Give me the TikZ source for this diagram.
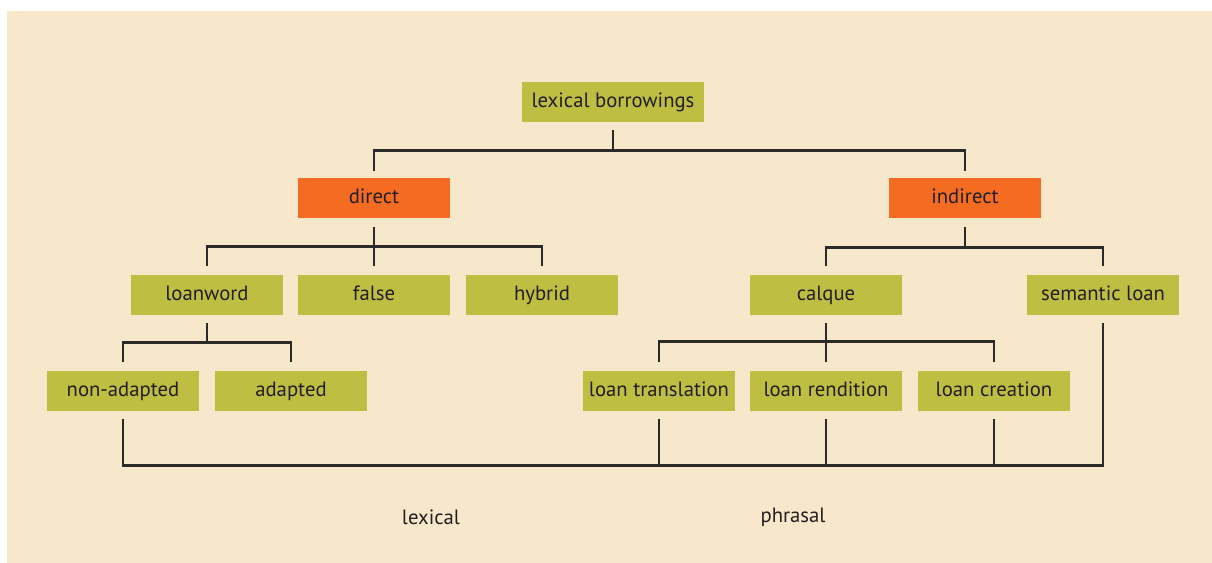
\documentclass[tikz,border=0pt]{standalone}
\usepackage{fontspec}
\setmainfont{PT Sans}
\definecolor{paperbg}{RGB}{248, 232, 203}
\definecolor{olivebox}{RGB}{189, 190, 66}
\definecolor{orangebox}{RGB}{243, 108, 33}
\definecolor{inkline}{RGB}{43, 42, 41}
\definecolor{inktext}{RGB}{35, 31, 32}
\usetikzlibrary{positioning, calc}

\begin{document}
\begin{tikzpicture}[x=0.02cm, y=-0.02cm,
    leaf/.style={fill=olivebox, minimum width=3.04cm, minimum height=0.8cm, inner sep=0pt, text height=1.6ex, text depth=0.4ex, font=\fontsize{11.8}{14}\selectfont, text=inktext},
    branch/.style={leaf, fill=orangebox},
    link/.style={draw=inkline, line width=1.65pt, line cap=rect}]
  \useasboundingbox (0,0) rectangle (1212,563);
  \fill[paperbg] (7,11) rectangle (1212,563);

  % Top levels
  \node[leaf, minimum width=3.64cm] (root) at (613, 102) {lexical borrowings};
  \node[branch] (direct) at (374, 198) {direct};
  \node[branch] (indirect) at (965, 198) {indirect};

  \node[leaf] (loanword) at (207, 295) {loanword};
  \node[leaf] (false) at (374, 295) {false};
  \node[leaf] (hybrid) at (542, 295) {hybrid};
  \node[leaf] (calque) at (826, 295) {calque};
  \node[leaf] (semloan) at (1103, 295) {semantic loan};

  \node[leaf] (nonadapt) at (123, 391) {non-adapted};
  \node[leaf] (adapt) at (291, 391) {adapted};
  \node[leaf] (loantrans) at (659, 391) {loan translation};
  \node[leaf] (loanrend) at (826, 391) {loan rendition};
  \node[leaf] (loancreat) at (994, 391) {loan creation};

  % Brackets
  \draw[link] ($(root.south)+(0,9)$) -- ++(0,19) coordinate (rootj);
  \draw[link] ($(direct.north)-(0,8)$) |- (rootj) -| ($(indirect.north)-(0,8)$);

  \draw[link] ($(direct.south)+(0,10)$) -- ($(false.north)-(0,10)$);
  \draw[link] ($(loanword.north)-(0,10)$) -- ++(0,-18) -| ($(hybrid.north)-(0,10)$);

  \draw[link] ($(indirect.south)+(0,10)$) -- ++(0,19) coordinate (indj);
  \draw[link] ($(calque.north)-(0,10)$) |- (indj) -| ($(semloan.north)-(0,10)$);

  \draw[link] ($(loanword.south)+(0,9)$) -- ++(0,18) coordinate (lwj);
  \draw[link] ($(nonadapt.north)-(0,10)$) |- (lwj) -| ($(adapt.north)-(0,10)$);

  \draw[link] ($(calque.south)+(0,9)$) -- ($(loanrend.north)-(0,10)$);
  \draw[link] ($(loantrans.north)-(0,10)$) -- ++(0,-19) -| ($(loancreat.north)-(0,10)$);

  % Bottom line
  \draw[link] ($(nonadapt.south)+(0,9)$) -- ++(0,45) coordinate (busl);
  \draw[link] ($(semloan.south)+(0,9)$) |- (busl);
  \draw[link] ($(loantrans.south)+(0,9)$) -- (loantrans.south |- busl);
  \draw[link] ($(loanrend.south)+(0,9)$) -- (loanrend.south |- busl);
  \draw[link] ($(loancreat.south)+(0,9)$) -- (loancreat.south |- busl);

  % Labels
  \node[font=\fontsize{11.8}{14}\selectfont, text=inktext] (lexlab) at (431, 517) {lexical};
  \node[font=\fontsize{11.8}{14}\selectfont, text=inktext] (phrlab) at (793, 517) {phrasal};
\end{tikzpicture}
\end{document}
